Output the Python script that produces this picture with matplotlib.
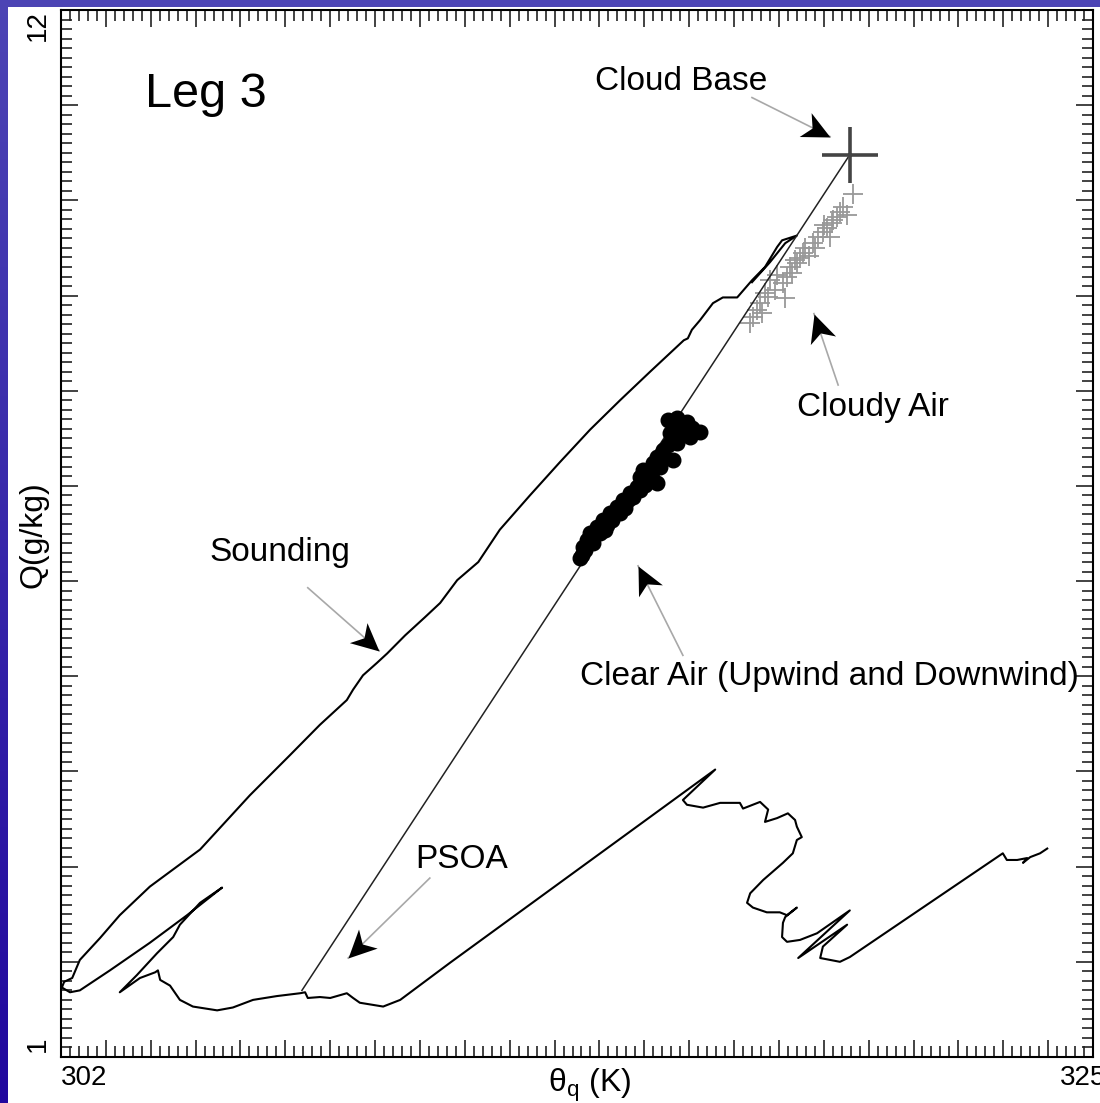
import numpy as np
import matplotlib
matplotlib.use("Agg")
import matplotlib.pyplot as plt
from matplotlib.path import Path
from matplotlib.markers import MarkerStyle
from matplotlib.transforms import Affine2D, blended_transform_factory
from matplotlib.patches import Rectangle

plt.rcParams['font.family'] = ['Liberation Sans', 'DejaVu Sans']
plt.rcParams['mathtext.fontset'] = 'custom'
plt.rcParams['mathtext.rm'] = 'Liberation Sans'

# sounding (theta_q in K, Q in g/kg)
snd_theta = [317.40, 317.80, 318.14, 318.40, 318.07, 317.96, 317.69, 317.40, 317.18, 317.07,
             316.75, 316.53, 316.24, 316.06, 315.97, 315.88, 315.13, 314.46, 313.79, 313.12,
             312.45, 311.78, 311.30, 310.83, 310.45, 310.11, 309.67, 309.27, 309.04, 308.73,
             308.51, 308.37, 307.77, 307.10, 306.21, 305.10, 303.98, 303.31, 302.87, 302.42,
             302.25, 302.07, 302.02, 302.20, 302.42, 303.09, 303.98, 304.81, 305.59, 305.10,
             304.65, 304.50, 304.14, 303.69, 303.31, 303.76, 304.10, 304.16, 304.21, 304.43,
             304.65, 304.94, 305.48, 305.83, 306.28, 306.81, 307.33, 307.44, 307.50, 307.77,
             308.00, 308.37, 308.51, 308.66, 309.18, 309.56, 310.67, 316.58, 315.86, 315.95,
             316.31, 316.69, 317.13, 317.20, 317.58, 317.76, 317.69, 317.96, 318.20, 318.36,
             318.40, 318.51, 318.40, 318.31, 318.09, 317.65, 317.36, 317.29, 317.42, 317.73,
             318.02, 318.18, 318.40, 318.14, 318.09, 318.07, 318.18, 318.47, 318.85, 319.58,
             318.43, 319.52, 318.98, 318.92, 319.36, 319.58, 322.99, 323.08, 323.31, 323.53,
             323.44, 323.60, 323.82, 323.98]
snd_q = [9.14, 9.35, 9.55, 9.63, 9.58, 9.51, 9.30, 9.16, 9.04, 8.98,
         8.98, 8.92, 8.74, 8.64, 8.55, 8.53, 8.20, 7.90, 7.59, 7.25,
         6.90, 6.54, 6.20, 6.01, 5.77, 5.62, 5.43, 5.24, 5.14, 5.01,
         4.86, 4.75, 4.49, 4.17, 3.75, 3.18, 2.79, 2.49, 2.25, 2.02,
         1.83, 1.79, 1.73, 1.68, 1.70, 1.91, 2.20, 2.49, 2.78, 2.62,
         2.39, 2.26, 2.09, 1.86, 1.68, 1.83, 1.89, 1.91, 1.81, 1.75,
         1.60, 1.53, 1.49, 1.52, 1.60, 1.64, 1.67, 1.68, 1.62, 1.63,
         1.62, 1.67, 1.62, 1.57, 1.53, 1.60, 1.99, 4.02, 3.70, 3.65,
         3.62, 3.67, 3.67, 3.61, 3.68, 3.60, 3.47, 3.51, 3.56, 3.49,
         3.42, 3.31, 3.28, 3.14, 3.04, 2.86, 2.72, 2.62, 2.57, 2.52,
         2.52, 2.49, 2.57, 2.47, 2.41, 2.26, 2.21, 2.23, 2.30, 2.54,
         2.04, 2.39, 2.16, 2.04, 2.00, 2.05, 3.14, 3.07, 3.07, 3.09,
         3.04, 3.10, 3.14, 3.19]

# cloud base and PSOA (end points of the mixing line)
cb_theta, cb_q = 319.58, 10.48
psoa_theta, psoa_q = 307.37, 1.70

# cloudy air samples
cloudy_theta = [319.65, 319.43, 319.36, 319.52, 319.29, 319.21, 319.18, 319.07, 318.98, 318.87,
                319.14, 318.76, 318.80, 318.58, 318.54, 318.47, 318.40, 318.36, 318.25, 318.29,
                318.18, 318.09, 317.96, 317.80, 317.91, 317.76, 318.14, 317.58, 317.51, 317.62,
                317.42, 317.36, 319.00, 318.66, 317.70]
cloudy_q = [10.07, 9.93, 9.88, 9.85, 9.83, 9.79, 9.76, 9.71, 9.67, 9.62,
            9.62, 9.55, 9.50, 9.50, 9.45, 9.39, 9.34, 9.37, 9.30, 9.24,
            9.19, 9.13, 9.22, 9.16, 9.06, 8.98, 8.97, 8.92, 8.85, 8.82,
            8.77, 8.71, 9.74, 9.42, 9.03]

# clear air samples
clear_theta = [315.53, 315.73, 315.95, 316.24, 316.02, 315.84, 315.57, 315.73, 315.42, 315.28,
               315.64, 315.35, 315.19, 315.13, 314.97, 315.28, 315.06, 314.90, 314.84, 314.68,
               314.53, 314.75, 314.39, 314.24, 314.46, 314.08, 314.17, 313.95, 314.01, 313.79,
               313.72, 313.86, 313.63, 313.61, 313.57, 313.68, 313.90, 314.12, 314.28, 314.57,
               314.64, 314.90, 315.02, 315.17, 315.24, 315.46, 315.53, 315.62, 315.91, 315.68,
               316.06]
clear_q = [7.69, 7.71, 7.67, 7.57, 7.51, 7.61, 7.56, 7.45, 7.38, 7.30,
           7.27, 7.20, 7.24, 7.14, 7.17, 7.03, 7.06, 7.09, 6.99, 6.93,
           6.85, 6.88, 6.78, 6.72, 6.72, 6.64, 6.59, 6.57, 6.51, 6.51,
           6.43, 6.40, 6.36, 6.27, 6.24, 6.33, 6.48, 6.54, 6.64, 6.77,
           6.85, 6.96, 7.01, 7.08, 7.19, 7.29, 7.43, 7.51, 7.56, 7.64,
           7.61]

# annotations: label, text position, arrow tail, arrow tip
labels = ['Cloud Base', 'Cloudy Air', 'Sounding', 'Clear Air (Upwind and Downwind)', 'PSOA']
label_pos = [(313.90, 11.16), (318.40, 7.73), (305.30, 6.21), (313.57, 4.91), (309.89, 2.99)]
arrow_tail = [(317.40, 11.08), (319.32, 8.06), (307.50, 5.93), (315.86, 5.22), (310.22, 2.88)]
arrow_tip = [(319.14, 10.67), (318.78, 8.81), (309.09, 5.27), (314.86, 6.16), (308.40, 2.04)]

fig = plt.figure(figsize=(11, 11.03), dpi=100)

# blue slide background
bg = fig.add_axes([0, 0, 1, 1])
grad = np.linspace(0, 1, 256).reshape(-1, 1)
top_c = np.array([0.30, 0.27, 0.71])
bot_c = np.array([0.13, 0.03, 0.62])
img = top_c + (bot_c - top_c) * grad[:, :, None]
bg.imshow(img, aspect='auto', extent=[0, 1, 0, 1])
bg.add_patch(Rectangle((8 / 1100, 0), 1, 1 - 7 / 1103, color='white', lw=0))
bg.set_xlim(0, 1)
bg.set_ylim(0, 1)
bg.axis('off')

ax = fig.add_axes([61 / 1100, 1 - 1057 / 1103, 1032 / 1100, 1047 / 1103])
ax.set_xlim(302, 325)
ax.set_ylim(1, 12)

ax.plot(snd_theta, snd_q, color='black', lw=1.5, zorder=3)
ax.plot([psoa_theta, cb_theta], [psoa_q, cb_q], color='#222222', lw=1.1, zorder=3)
ax.plot(cloudy_theta, cloudy_q, ls='none', marker='+', ms=15, mew=1.3, color='#999999', zorder=2)
ax.plot(clear_theta, clear_q, ls='none', marker='o', ms=10.5, color='black', zorder=4)
ax.plot([cb_theta], [cb_q], marker='+', ms=40, mew=2.6, color='#444444', zorder=5)

ax.text(303.87, 10.98, 'Leg 3', fontsize=35, ha='left', va='baseline')
for lab, pos in zip(labels, label_pos):
    ax.text(pos[0], pos[1], lab, fontsize=24, ha='left', va='baseline')

# arrows: thin gray shaft with black notched head
head = Path([(0, 0), (-1, 0.48), (-0.72, 0), (-1, -0.48), (0, 0)],
            [Path.MOVETO, Path.LINETO, Path.LINETO, Path.LINETO, Path.CLOSEPOLY])
for tail, tip in zip(arrow_tail, arrow_tip):
    ax.plot([tail[0], tip[0]], [tail[1], tip[1]], color='#a8a8a8', lw=1.2, zorder=5)
    p1 = ax.transData.transform(tail)
    p2 = ax.transData.transform(tip)
    ang = np.degrees(np.arctan2(p2[1] - p1[1], p2[0] - p1[0]))
    m = MarkerStyle(head, transform=Affine2D().rotate_deg(ang))
    ax.plot([tip[0]], [tip[1]], marker=m, ms=40, color='black', mew=0, zorder=6)

# ticks
ax.set_xticks(np.arange(302, 326, 1))
ax.set_xticks(np.arange(302, 325.01, 0.2), minor=True)
ax.set_yticks(np.arange(1, 13, 1))
ax.set_yticks(np.arange(1, 12.01, 0.1), minor=True)
ax.tick_params(which='both', direction='in', top=True, right=True,
               labelbottom=False, labelleft=False, width=1.2, color='#222222')
ax.tick_params(which='major', length=12)
ax.tick_params(which='minor', length=8)
for s in ax.spines.values():
    s.set_linewidth(1.5)

xb = blended_transform_factory(ax.transData, ax.transAxes)
ax.text(302, -0.008, '302', transform=xb, fontsize=20, ha='left', va='top')
ax.text(324.26, -0.008, '325', transform=xb, fontsize=20, ha='left', va='top', clip_on=False)
yb = blended_transform_factory(ax.transAxes, ax.transData)
ax.text(-0.022, 12, '12', transform=yb, fontsize=20, rotation=90, ha='center', va='top')
ax.text(-0.022, 1.05, '1', transform=yb, fontsize=20, rotation=90, ha='center', va='bottom')

ax.text(0.5126, -0.009, 'θ$_\\mathregular{q}$ (K)', transform=ax.transAxes,
        fontsize=23, ha='center', va='top')
ax.text(-0.027, 0.4986, 'Q(g/kg)', transform=ax.transAxes, fontsize=23,
        rotation=90, ha='center', va='center')

fig.savefig('out.png', dpi=100)
